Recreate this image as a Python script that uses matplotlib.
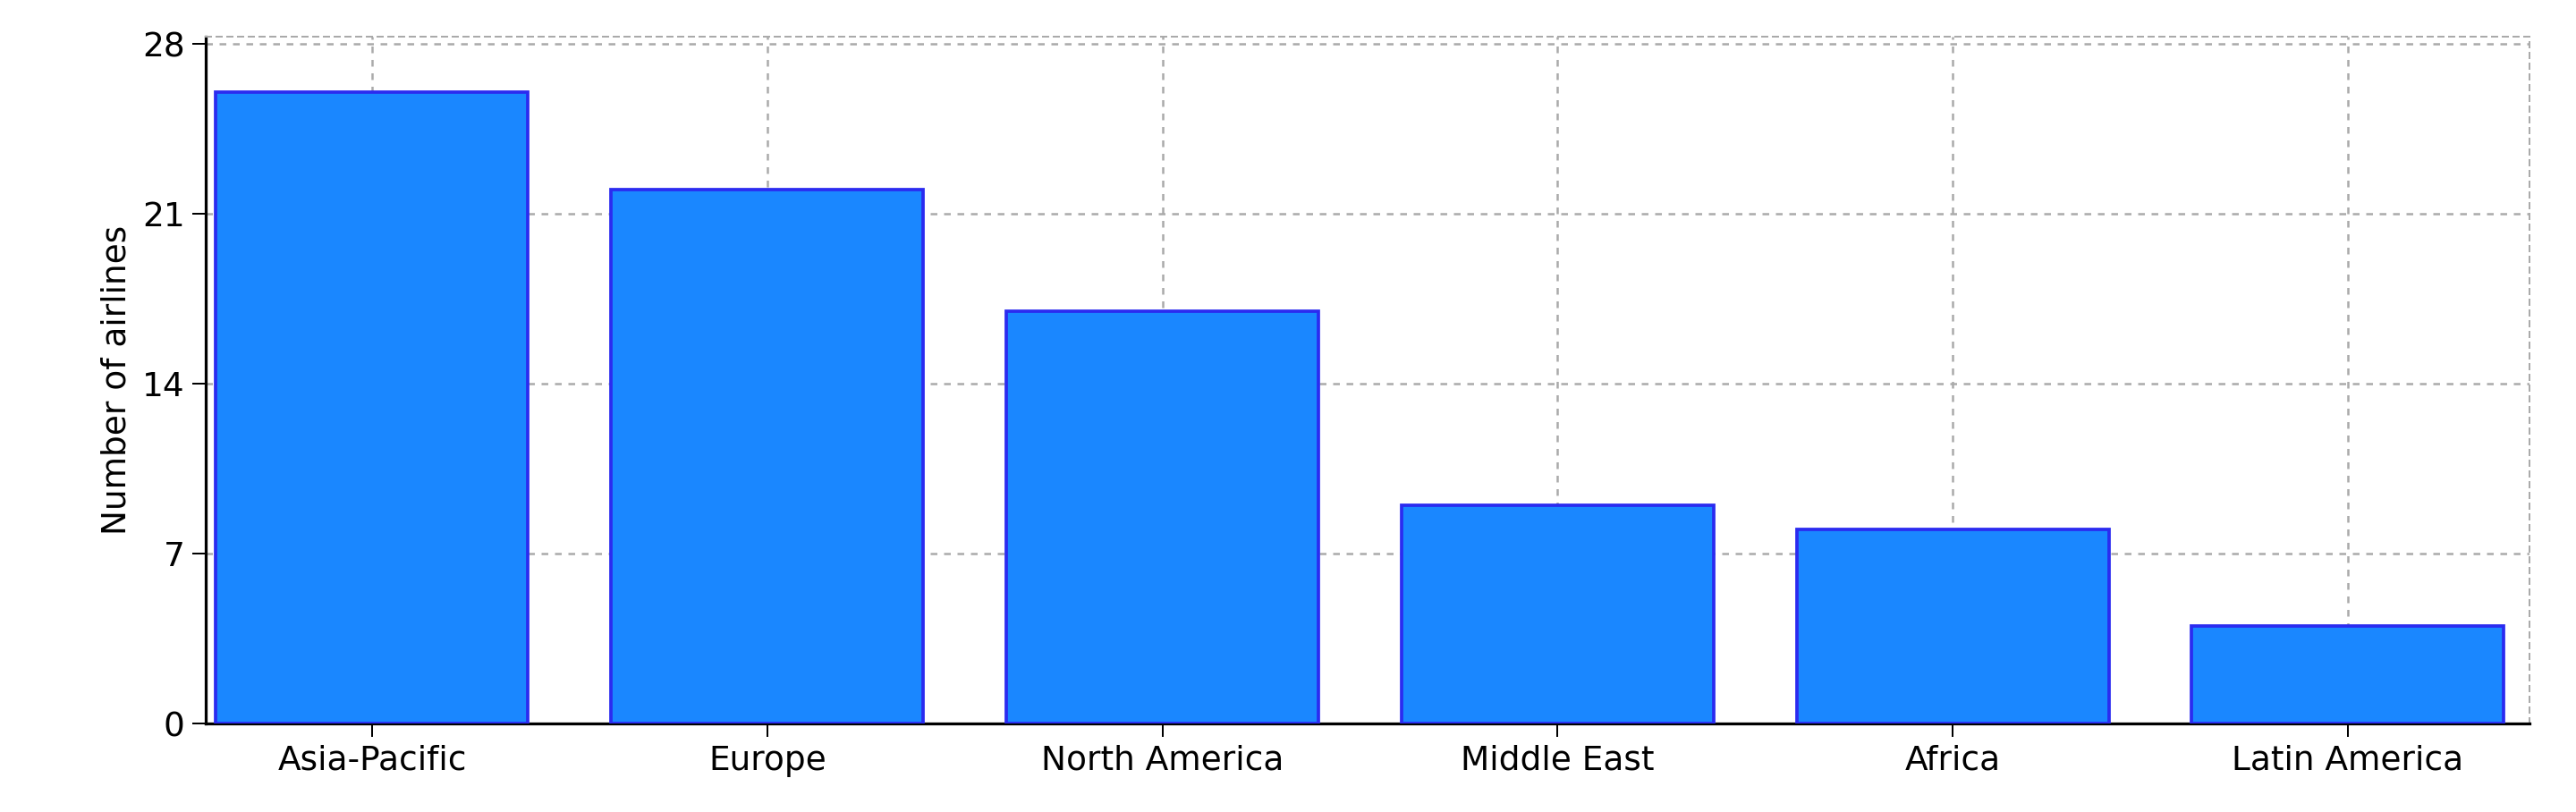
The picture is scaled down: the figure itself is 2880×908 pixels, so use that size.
import matplotlib
matplotlib.use("Agg")
import matplotlib.pyplot as plt

regions = ["Asia-Pacific", "Europe", "North America", "Middle East", "Africa", "Latin America"]
airlines = [26, 22, 17, 9, 8, 4]
y_ticks = [0, 7, 14, 21, 28]

plt.rcParams["font.family"] = ["DejaVu Sans"]

fig = plt.figure(figsize=(16, 908 / 180), dpi=180)
ax = fig.add_axes([0.08, 0.109, 0.902, 0.846])

x = range(len(regions))
ax.bar(x, airlines, width=0.79, color="#1a87ff", edgecolor="#2b2bf0", linewidth=1.5, zorder=3)

ax.set_xlim(-0.42, 5.46)
ax.set_ylim(0, 28.3)
ax.set_yticks(y_ticks)
ax.set_xticks(list(x))
ax.set_xticklabels(regions)
ax.tick_params(labelsize=15, length=6)
ax.set_ylabel("Number of airlines", fontsize=15)

ax.grid(True, color="#aaaaaa", linestyle=(0, (3, 3)), linewidth=1, zorder=0)
for side in ("top", "right"):
    ax.spines[side].set_color("#aaaaaa")
    ax.spines[side].set_linestyle((0, (3, 3)))
for side in ("left", "bottom"):
    ax.spines[side].set_linewidth(1.3)

fig.savefig("out.png", dpi=180)
